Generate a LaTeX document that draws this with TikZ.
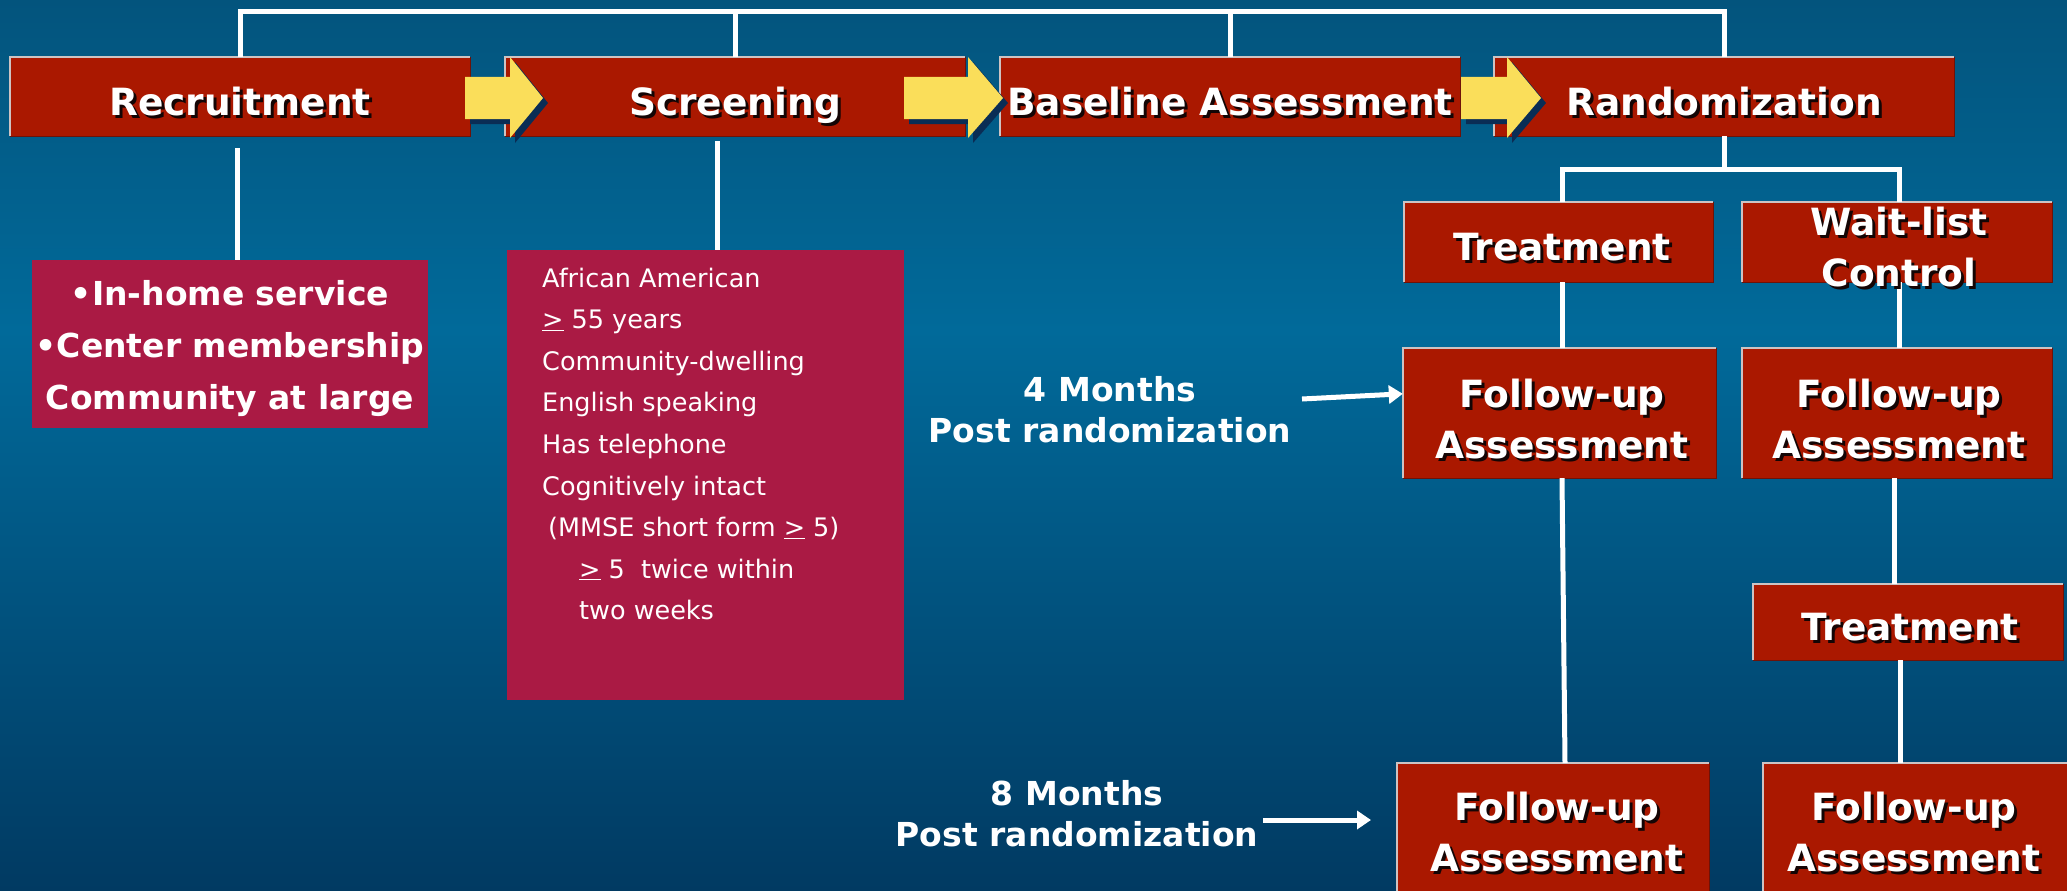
\documentclass[tikz,border=0pt]{standalone}
\usepackage{fontspec}
\setmainfont{DejaVu Sans}
\usetikzlibrary{calc,arrows.meta}

\definecolor{bgtop}{RGB}{3,84,125}
\definecolor{bgmid}{RGB}{1,106,154}
\definecolor{bgbot}{RGB}{1,58,98}
\definecolor{boxred}{RGB}{170,24,0}
\definecolor{subred}{RGB}{170,26,68}
\definecolor{arrowy}{RGB}{250,222,90}
\definecolor{arrowsh}{RGB}{10,45,85}
\definecolor{edgehi}{RGB}{205,195,195}
\definecolor{edgelo}{RGB}{110,18,8}
\definecolor{txtsh}{RGB}{20,5,5}

% white text with a dark drop shadow
\newcommand{\shd}[1]{\rlap{\kern3pt\raisebox{-3pt}{\textcolor{txtsh}{#1}}}#1}
% yellow block arrow: shaft start, head base, tip (x values)
\newcommand{\yblock}[3]{%
  \fill[arrowsh, shift={(5,5)}] (#1,77) -- (#2,77) -- (#2,57) -- (#3,98) -- (#2,138) -- (#2,119) -- (#1,119) -- cycle;
  \fill[arrowy] (#1,77) -- (#2,77) -- (#2,57) -- (#3,98) -- (#2,138) -- (#2,119) -- (#1,119) -- cycle;}
% bevelled edge of a red box: light top/left, dark bottom/right
\newcommand{\bevel}[1]{%
  \draw[draw=edgehi, line width=1.5pt] (#1.south west) -- (#1.north west) -- (#1.north east);
  \draw[draw=edgelo, line width=1.2pt] (#1.north east) -- (#1.south east) -- (#1.south west);}

\tikzset{
  wire/.style={draw=white, line width=5pt, line join=miter},
  stage/.style={fill=boxred, inner sep=0pt},
  subbox/.style={fill=subred, inner sep=0pt},
  bigtxt/.style={text=white, font=\fontsize{37.5}{51}\selectfont\bfseries, inner sep=0pt, anchor=base},
  midtxt/.style={text=white, font=\fontsize{33}{52}\selectfont\bfseries, inner sep=0pt, anchor=base},
  listtxt/.style={text=white, font=\fontsize{25.5}{41.6}\selectfont, inner sep=0pt, anchor=base west},
  timetxt/.style={text=white, font=\fontsize{33}{41}\selectfont\bfseries, inner sep=0pt, anchor=base},
  pointer/.style={draw=white, line width=5pt, -{Triangle[length=14pt,width=18pt]}},
}

\begin{document}
\begin{tikzpicture}[x=1pt,y=-1pt]
\useasboundingbox (0,0) rectangle (2067,891);
\clip (0,0) rectangle (2067,891);
% background
\shade[top color=bgtop, bottom color=bgmid] (0,0) rectangle (2067,331);
\shade[top color=bgmid, bottom color=bgbot] (0,330) rectangle (2067,891);

% stage boxes
\node[stage, minimum width=460pt, minimum height=79pt] (rec) at (240,96.5) {};
\node[stage, minimum width=460pt, minimum height=79pt] (scr) at (735,96.5) {};
\node[stage, minimum width=460pt, minimum height=79pt] (bas) at (1230,96.5) {};
\node[stage, minimum width=460pt, minimum height=79pt] (rnd) at (1724,96.5) {};
\bevel{rec}\bevel{scr}\bevel{bas}\bevel{rnd}

% bracket over the stages
\coordinate (bar) at (0,12);
\draw[wire] (rec.north) -- (rec.north |- bar) -- (rnd.north |- bar) -- (rnd.north);
\draw[wire] (scr.north) -- (scr.north |- bar);
\draw[wire] (bas.north) -- (bas.north |- bar);

% block arrows between stages
\yblock{465}{510}{543}
\yblock{904}{968}{1003}
\yblock{1461}{1507}{1541}

\node[bigtxt] (recT) at (240,115) {\shd{Recruitment}};
\node[bigtxt] (scrT) at (735,115) {\shd{Screening}};
\node[bigtxt] (basT) at (1230,115) {\shd{Baseline Assessment}};
\node[bigtxt] (rndT) at (1724,115) {\shd{Randomization}};

% recruitment sources
\node[subbox, minimum width=396pt, minimum height=168pt] (recsub) at (230,344) {};
\coordinate (recdrop) at (237,148);
\draw[wire] (recdrop) -- (recdrop |- recsub.north);
\node[midtxt] (recsubT) at (230,305) {\begin{tabular}[t]{@{}c@{}}•In-home service\\•Center membership\\Community at large\end{tabular}};

% screening criteria
\node[subbox, minimum width=397pt, minimum height=450pt] (scrsub) at (705.5,475) {};
\coordinate (scrdrop) at (717,141);
\draw[wire] (scrdrop) -- (scrdrop |- scrsub.north);
\node[listtxt] (scrsubT) at (542,287) {\begin{tabular}[t]{@{}l@{}}
African American\\
\underline{>} 55 years\\
Community-dwelling\\
English speaking\\
Has telephone\\
Cognitively intact\\
\hspace{6pt}(MMSE short form \underline{>} 5)\\
\hspace{37pt}\underline{>} 5\ \ twice within\\
\hspace{37pt}two weeks
\end{tabular}};

% randomization arms
\node[stage, minimum width=309pt, minimum height=80pt] (trt) at (1558.5,242) {};
\node[stage, minimum width=310pt, minimum height=80pt] (wl) at (1897,242) {};
\node[stage, minimum width=313pt, minimum height=130pt] (fu1) at (1559.5,413) {};
\node[stage, minimum width=310pt, minimum height=130pt] (fu2) at (1897,413) {};
\node[stage, minimum width=310pt, minimum height=76pt] (trt2) at (1908,622) {};
\node[stage, minimum width=312pt, minimum height=130pt] (fu3) at (1553,828) {};
\node[stage, minimum width=312pt, minimum height=130pt] (fu4) at (1919,828) {};
\bevel{trt}\bevel{wl}\bevel{fu1}\bevel{fu2}\bevel{trt2}\bevel{fu3}\bevel{fu4}

\coordinate (tl) at (1562,169);
\coordinate (wr) at (1899,169);
\coordinate (colC) at (1894,0);
\coordinate (colD) at (1900,0);
\draw[wire] (rnd.south) -- (rnd.south |- tl);
\draw[wire] (tl |- trt.north) -- (tl) -- (wr) -- (wr |- wl.north);
\draw[wire] (tl |- trt.south) -- (tl |- fu1.north);
\draw[wire] (wr |- wl.south) -- (wr |- fu2.north);
\draw[wire] (tl |- fu1.south) -- ($(tl |- fu3.north)+(3,0)$);
\draw[wire] (colC |- fu2.south) -- (colC |- trt2.north);
\draw[wire] (colD |- trt2.south) -- (colD |- fu4.north);

\node[bigtxt] (trtT) at (1562,260) {\shd{Treatment}};
\node[bigtxt] (wlT) at (1899,235) {\begin{tabular}[t]{@{}c@{}}\shd{Wait-list}\\\shd{Control}\end{tabular}};
\node[bigtxt] (fu1T) at (1562,407) {\begin{tabular}[t]{@{}c@{}}\shd{Follow-up}\\\shd{Assessment}\end{tabular}};
\node[bigtxt] (fu2T) at (1899,407) {\begin{tabular}[t]{@{}c@{}}\shd{Follow-up}\\\shd{Assessment}\end{tabular}};
\node[bigtxt] (trt2T) at (1910,640) {\shd{Treatment}};
\node[bigtxt] (fu3T) at (1557,820) {\begin{tabular}[t]{@{}c@{}}\shd{Follow-up}\\\shd{Assessment}\end{tabular}};
\node[bigtxt] (fu4T) at (1914,820) {\begin{tabular}[t]{@{}c@{}}\shd{Follow-up}\\\shd{Assessment}\end{tabular}};

% time points
\node[timetxt] (m4) at (1110,401) {\begin{tabular}[t]{@{}c@{}}4 Months\\Post randomization\end{tabular}};
\node[timetxt] (m8) at (1077,805) {\begin{tabular}[t]{@{}c@{}}8 Months\\Post randomization\end{tabular}};
\coordinate (m4s) at (1302,399);
\coordinate (m8s) at (1263,820);
\coordinate (m8e) at (1371,820);
\draw[pointer] (m4s) -- ($(fu1.north west)+(0,46)$);
\draw[pointer] (m8s) -- (m8e);
\end{tikzpicture}
\end{document}
